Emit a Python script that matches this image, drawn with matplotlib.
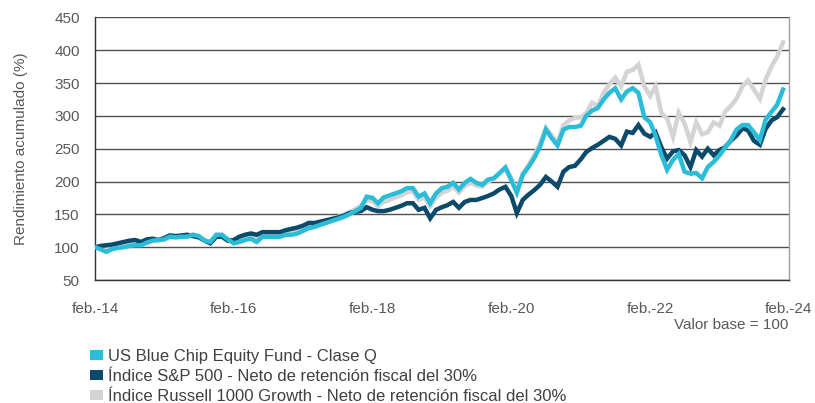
import numpy as np
import pandas as pd
import matplotlib
matplotlib.use('Agg')
import matplotlib.pyplot as plt
from matplotlib.patches import Patch

plt.rcParams['font.family'] = ['Liberation Sans', 'DejaVu Sans']

# Monthly values, Feb 2014 - Jan 2024 (base 100)
fund = [100, 97, 93, 97, 99, 100, 102, 103, 103, 107, 110, 111,
        112, 116, 115, 116, 116, 119, 117, 110, 108, 119, 119, 112,
        106, 108, 111, 113, 108, 116, 116, 116, 116, 119, 119, 121,
        125, 129, 131, 134, 137, 140, 143, 146, 150, 155, 160, 177,
        175, 167, 176, 179, 182, 185, 190, 190, 177, 182, 167, 182,
        190, 192, 198, 188, 198, 204, 198, 195, 203, 205, 213, 221,
        202, 183, 210, 222, 236, 253, 279, 266, 255, 279, 283, 283,
        285, 300, 308, 312, 325, 335, 342, 325, 337, 342, 335, 298,
        290, 270, 240, 218, 233, 242, 215, 212, 213, 205, 222, 230,
        240, 251, 263, 279, 286, 286, 275, 263, 294, 306, 317, 340]

sp500 = [100, 102, 103, 104, 106, 108, 110, 111, 108, 112, 113, 111,
         114, 118, 117, 118, 119, 117, 115, 110, 106, 116, 116, 110,
         111, 116, 119, 121, 119, 123, 123, 123, 123, 126, 128, 130,
         133, 137, 137, 139, 141, 143, 145, 148, 152, 154, 155, 161,
         157, 155, 155, 157, 160, 163, 167, 167, 157, 160, 144, 157,
         161, 164, 169, 160, 169, 172, 172, 175, 178, 182, 188, 192,
         178, 152, 172, 180, 187, 195, 207, 200, 192, 215, 222, 224,
         234, 245, 251, 256, 262, 268, 265, 255, 276, 274, 286, 273,
         268, 275, 252, 235, 246, 248, 240, 222, 248, 238, 250, 240,
         248, 252, 262, 270, 281, 278, 262, 256, 280, 293, 298, 310]

russell = [100, 99, 98, 100, 102, 104, 106, 107, 106, 110, 112, 111,
           113, 117, 116, 117, 118, 119, 116, 110, 107, 118, 118, 112,
           108, 111, 114, 116, 113, 119, 119, 119, 120, 122, 123, 125,
           128, 132, 134, 137, 140, 143, 146, 149, 153, 158, 163, 171,
           170, 162, 169, 172, 176, 179, 184, 185, 172, 176, 162, 176,
           183, 186, 192, 183, 193, 198, 194, 192, 200, 204, 212, 222,
           205, 185, 212, 225, 240, 258, 282, 270, 259, 286, 293, 297,
           298, 304, 320, 315, 335, 348, 358, 345, 367, 370, 378, 345,
           330, 345, 304, 296, 268, 305, 288, 260, 290, 272, 275, 290,
           285, 306, 315, 326, 345, 354, 340, 326, 355, 375, 390, 412]

dates = pd.date_range('2014-02-01', periods=len(fund), freq='MS')
tick_dates = pd.to_datetime(['2014-02-01', '2016-02-01', '2018-02-01',
                             '2020-02-01', '2022-02-01', '2024-02-01'])
tick_labels = ['feb.-14', 'feb.-16', 'feb.-18', 'feb.-20', 'feb.-22', 'feb.-24']

names = ['US Blue Chip Equity Fund - Clase Q',
         'Índice S&P 500 - Neto de retención fiscal del 30%',
         'Índice Russell 1000 Growth - Neto de retención fiscal del 30%']
colors = ['#2bbcd8', '#0b4a6b', '#d4d4d4']

fig = plt.figure(figsize=(8.15, 4.03), dpi=100)
ax = fig.add_axes([0.1166, 0.305, 0.8514, 0.652])

ax.plot(dates, russell, color=colors[2], lw=3.2, solid_joinstyle='miter', zorder=3)
ax.plot(dates, sp500, color=colors[1], lw=3.2, solid_joinstyle='miter', zorder=4)
ax.plot(dates, fund, color=colors[0], lw=3.2, solid_joinstyle='miter', zorder=5)

ax.set_ylim(50, 450)
ax.set_yticks(np.arange(50, 451, 50))
ax.set_xlim(tick_dates[0], tick_dates[-1])
ax.set_xticks(tick_dates)
ax.set_xticklabels(tick_labels)
ax.grid(axis='y', color='#505050', lw=1)
ax.set_axisbelow(True)

for s in ['left', 'bottom']:
    ax.spines[s].set_color('#333333')
    ax.spines[s].set_linewidth(1)
ax.spines['top'].set_visible(False)
ax.spines['right'].set_color('#a0a0a0')
ax.spines['right'].set_linewidth(1)

ax.tick_params(axis='both', length=0, labelsize=11, colors='#595959')
ax.tick_params(axis='y', pad=11)
ax.tick_params(axis='x', pad=16)

ax.set_ylabel('Rendimiento acumulado (%)', fontsize=11, color='#595959', labelpad=19)

fig.text(0.967, 0.193, 'Valor base = 100', ha='right', va='center',
         fontsize=11, color='#595959')

handles = [Patch(facecolor=c, edgecolor='none') for c in colors]
leg = fig.legend(handles, names, loc='upper left', frameon=False, fontsize=12,
                 labelcolor='#404040', handlelength=0.8, handleheight=0.55,
                 handletextpad=0.3, labelspacing=0.32, borderaxespad=0)
leg.set_bbox_to_anchor((0.102, 1 - 342 / 403), transform=fig.transFigure)

fig.savefig('out.png', dpi=100)
